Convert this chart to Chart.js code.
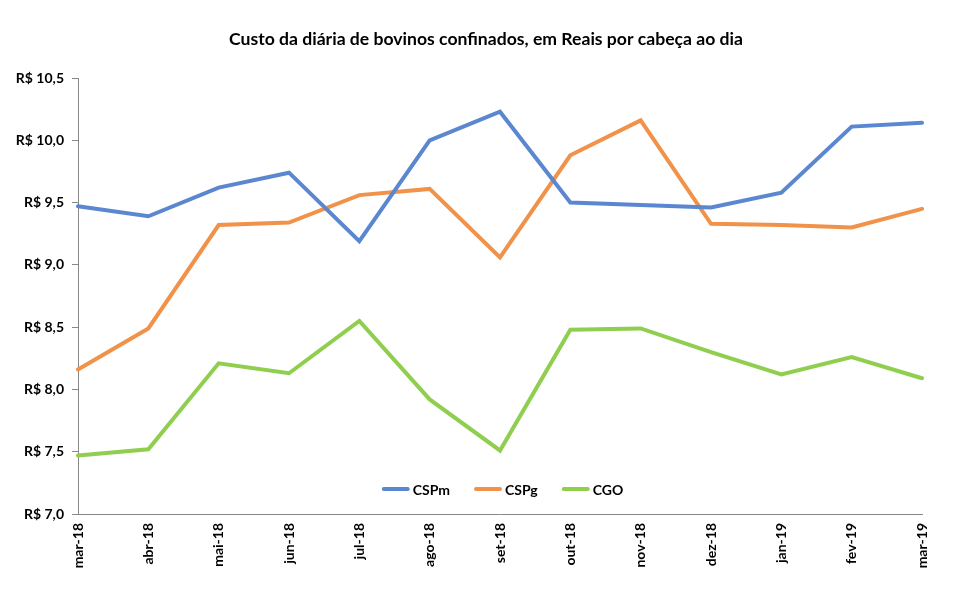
<!DOCTYPE html>
<html>
<head>
<meta charset="utf-8">
<script src="https://cdn.jsdelivr.net/npm/chart.js@4"></script>
<style>
  html, body { margin: 0; padding: 0; background: #fff; }
  #wrap { width: 961px; height: 594px; position: relative; }
</style>
</head>
<body>
<div id="wrap"><canvas id="c" width="961" height="594"></canvas></div>
<script>
const categories = ["mar-18","abr-18","mai-18","jun-18","jul-18","ago-18","set-18","out-18","nov-18","dez-18","jan-19","fev-19","mar-19"];
const cspm = [9.47, 9.39, 9.62, 9.74, 9.19, 10.00, 10.23, 9.50, 9.48, 9.46, 9.58, 10.11, 10.14];
const cspg = [8.16, 8.49, 9.32, 9.34, 9.56, 9.61, 9.06, 9.88, 10.16, 9.33, 9.32, 9.30, 9.45];
const cgo  = [7.47, 7.52, 8.21, 8.13, 8.55, 7.92, 7.51, 8.48, 8.49, 8.30, 8.12, 8.26, 8.09];
const yTicks = [7.0, 7.5, 8.0, 8.5, 9.0, 9.5, 10.0, 10.5];

const FONT = "Lato, 'Open Sans', sans-serif";

const shiftTitle = {
  id: 'shiftTitle',
  afterLayout(chart) {
    const t = chart.titleBlock;
    if (t) { t.left += 25; t.right += 25; }
  }
};

const legendInside = {
  id: 'legendInside',
  afterDraw(chart) {
    const ctx = chart.ctx;
    const ds = chart.data.datasets;
    ctx.save();
    ctx.font = "bold 14px " + FONT;
    ctx.textBaseline = 'middle';
    const lineLen = 28, gap = 3, itemGap = 24;
    const widths = ds.map(d => ctx.measureText(d.label).width);
    let total = 0;
    widths.forEach((w, i) => { total += lineLen + gap + w + (i < widths.length - 1 ? itemGap : 0); });
    let x = 502.5 - total / 2;
    const y = 489;
    ds.forEach((d, i) => {
      ctx.strokeStyle = d.borderColor;
      ctx.lineWidth = 4;
      ctx.lineCap = 'round';
      ctx.beginPath();
      ctx.moveTo(x + 2, y);
      ctx.lineTo(x + lineLen - 2, y);
      ctx.stroke();
      ctx.fillStyle = '#000';
      ctx.fillText(d.label, x + lineLen + gap, y + 1);
      x += lineLen + gap + widths[i] + itemGap;
    });
    ctx.restore();
  }
};

new Chart(document.getElementById('c'), {
  type: 'line',
  data: {
    labels: categories,
    datasets: [
      { label: 'CSPm', data: cspm, borderColor: '#5B87D0', backgroundColor: '#5B87D0' },
      { label: 'CSPg', data: cspg, borderColor: '#F0924A', backgroundColor: '#F0924A' },
      { label: 'CGO',  data: cgo,  borderColor: '#8FCE4E', backgroundColor: '#8FCE4E' }
    ]
  },
  options: {
    responsive: false,
    animation: false,
    devicePixelRatio: 1,
    elements: {
      line: { borderWidth: 4, tension: 0, borderCapStyle: 'round', borderJoinStyle: 'miter' },
      point: { radius: 0, hoverRadius: 0 }
    },
    layout: { padding: { left: 0, right: 39, top: 0, bottom: 0 } },
    plugins: {
      legend: { display: false },
      tooltip: { enabled: false },
      title: {
        display: true,
        text: 'Custo da diária de bovinos confinados, em Reais por cabeça ao dia',
        color: '#000',
        font: { family: FONT, size: 17.6, weight: 'bold' },
        padding: { top: 29, bottom: 27.9 }
      }
    },
    scales: {
      x: {
        offset: false,
        grid: { display: false, drawTicks: true, tickLength: 6, color: '#888' },
        border: { display: true, color: '#888', width: 1 },
        ticks: {
          color: '#000',
          font: { family: FONT, size: 14, weight: 'bold' },
          maxRotation: 90, minRotation: 90,
          autoSkip: false,
          padding: 3
        },
        afterFit(scale) { scale.height = 80; }
      },
      y: {
        min: 7, max: 10.5,
        afterBuildTicks(scale) { scale.ticks = yTicks.map(v => ({ value: v })); },
        grid: { display: true, drawOnChartArea: false, drawTicks: true, tickLength: 6, color: '#888' },
        border: { display: true, color: '#888', width: 1 },
        ticks: {
          color: '#000',
          font: { family: FONT, size: 14, weight: 'bold' },
          padding: 8,
          callback: v => 'R$ ' + Number(v).toFixed(1).replace('.', ',')
        },
        afterFit(scale) { scale.width = 78; }
      }
    }
  },
  plugins: [shiftTitle, legendInside]
});
</script>
</body>
</html>
